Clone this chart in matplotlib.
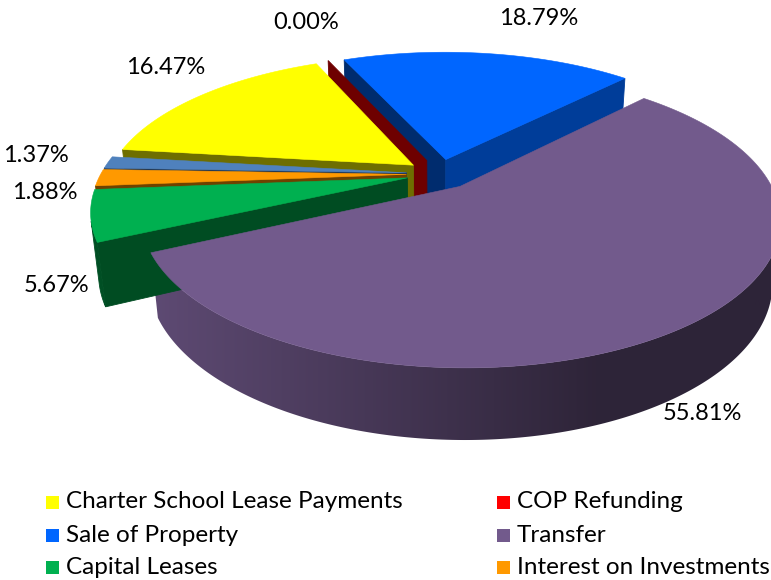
import numpy as np
import matplotlib.pyplot as plt
from matplotlib.patches import Polygon, Rectangle
from matplotlib.colors import to_rgb

# slice data, in the order the sheet lists it (clockwise from the first slice)
categories = ["Charter School Lease Payments", "COP Refunding", "Sale of Property",
              "Transfer", "Capital Leases", "Interest on Investments", "Other"]
shares = [16.47, 0.00, 18.79, 55.81, 5.67, 1.88, 1.37]
legend_count = 6  # the last entry is cut off in the original legend

top_colors = ["#FFFF00", "#FF0000", "#0066FF", "#725A8C", "#00B050", "#FF9900", "#4F81BD"]
# where each percent label sits relative to the slice's outer edge (pixels)
label_nudge = [(-36, -28), (-22, -38), (50, -35), (17, 87), (-34, 70), (-54, 15), (-72, -7)]

# 3d view set up (pixels)
CX, CY = 440, 174
XSCALE = 0.97
ELEV = np.radians(25.6)
DIST = 4.18
FOCAL = 1317
DEPTH = 0.215
EXPLODE = 0.11
START = 277.0
FONT = ["Lato", "DejaVu Sans"]

eye = np.array([0.0, -DIST * np.cos(ELEV), DIST * np.sin(ELEV)])


def project(u, v, z):
    yup = v * np.sin(ELEV) + z * np.cos(ELEV)
    d = v * np.cos(ELEV) - z * np.sin(ELEV)
    s = FOCAL / (DIST + d)
    return CX + u * s * XSCALE, CY - yup * s


def depth_of(pts):
    return np.mean([p[1] * np.cos(ELEV) - p[2] * np.sin(ELEV) for p in pts])


def facing(pts, normal):
    c = np.mean(np.array(pts), axis=0)
    return np.dot(eye - c, normal) > 0


def shade(color, f):
    r, g, b = to_rgb(color)
    return (r * f, g * f, b * f)


fig = plt.figure(figsize=(7.71, 5.80), dpi=100)
ax = fig.add_axes([0, 0, 1, 1])
ax.set_xlim(0, 771)
ax.set_ylim(580, 0)
ax.axis("off")

walls = []  # (depth, points3d, color or 'gradient')
tops = []
label_anchor = []
angle = START
for i, val in enumerate(shares):
    a0 = angle
    a1 = angle + val * 3.6
    angle = a1
    am = np.radians((a0 + a1) / 2)
    ou, ov = EXPLODE * np.sin(am), EXPLODE * np.cos(am)
    n = max(2, int((a1 - a0) / 0.5) + 2)
    arc = np.radians(np.linspace(a0, a1, n))
    rim = [(ou + np.sin(t), ov + np.cos(t)) for t in arc]

    # outer curved wall: keep the strips that face the eye as one piece
    if a1 > a0:
        seen = []
        for k in range(n - 1):
            tm = (arc[k] + arc[k + 1]) / 2
            q = [(rim[k][0], rim[k][1], 0), (rim[k + 1][0], rim[k + 1][1], 0),
                 (rim[k + 1][0], rim[k + 1][1], -DEPTH), (rim[k][0], rim[k][1], -DEPTH)]
            if facing(q, np.array([np.sin(tm), np.cos(tm), 0])):
                seen.append(k)
        if seen:
            ks = list(range(seen[0], seen[-1] + 2))
            q = [(rim[k][0], rim[k][1], 0) for k in ks] + \
                [(rim[k][0], rim[k][1], -DEPTH) for k in ks[::-1]]
            if categories[i] == "Transfer":
                col = "gradient"
            else:
                col = shade(top_colors[i], 0.45)
            walls.append((depth_of(q), q, col))

    # the two flat walls at the slice edges
    for t, sgn in ((np.radians(a0), -1), (np.radians(a1), 1)):
        pu, pv = ou + np.sin(t), ov + np.cos(t)
        q = [(ou, ov, 0), (pu, pv, 0), (pu, pv, -DEPTH), (ou, ov, -DEPTH)]
        nrm = sgn * np.array([np.cos(t), -np.sin(t), 0])
        if facing(q, nrm):
            f = 0.6 if nrm[0] > 0.5 else 0.43
            walls.append((depth_of(q), q, shade(top_colors[i], f)))

    if a1 > a0:
        tops.append(([(ou, ov)] + rim, top_colors[i]))
    label_anchor.append(project(ou + np.sin(am), ov + np.cos(am), 0))

# side shading of the big slice, light on the left and dark to the right
xs = np.linspace(0, 771, 400)
f = 0.40 + 0.42 * np.clip((600 - xs) / 445, 0, 1)
grad = np.array([[shade(top_colors[3], v) for v in f]])

walls.sort(key=lambda w: -w[0])
for _, q, col in walls:
    xy = [project(*p) for p in q]
    if isinstance(col, str) and col == "gradient":
        poly = Polygon(xy, closed=True, facecolor="none", edgecolor="none")
        ax.add_patch(poly)
        im = ax.imshow(grad, extent=(0, 771, 580, 0), aspect="auto", interpolation="bilinear")
        im.set_clip_path(poly)
    else:
        ax.add_patch(Polygon(xy, closed=True, facecolor=col, edgecolor=col, linewidth=0.6))
for pts, col in tops:
    xy = [project(u, v, 0) for u, v in pts]
    ax.add_patch(Polygon(xy, closed=True, facecolor=col, edgecolor=col, linewidth=0.4))
ax.set_xlim(0, 771)
ax.set_ylim(580, 0)

# percent labels
for i, val in enumerate(shares):
    x, y = label_anchor[i]
    dx, dy = label_nudge[i]
    ax.text(x + dx, y + dy, f"{val:.2f}%", fontsize=17, family=FONT,
            ha="center", va="center", color="black")

# legend, two columns
col_x = [46, 497]
row_y = [502, 535, 567]
for i in range(legend_count):
    cx = col_x[i % 2]
    cy = row_y[i // 2]
    ax.add_patch(Rectangle((cx, cy - 6.5), 13, 13, facecolor=top_colors[i], edgecolor="none"))
    ax.text(cx + 20, cy, categories[i], fontsize=17.5, family=FONT,
            ha="left", va="center", color="black")

fig.savefig("out.png", dpi=100)
